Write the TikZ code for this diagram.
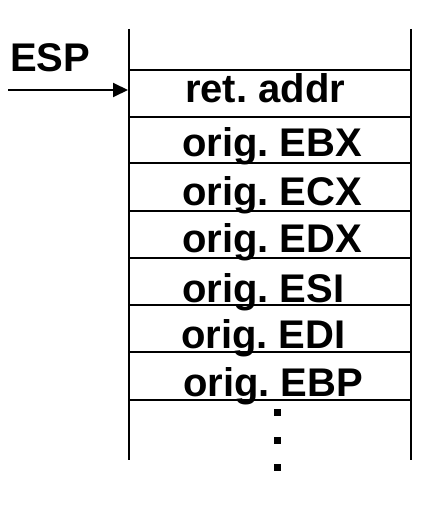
\documentclass[tikz,border=0pt]{standalone}
\usepackage{fontspec}
\setmainfont{Liberation Sans}
\usetikzlibrary{arrows.meta}
\frenchspacing

\begin{document}
\begin{tikzpicture}[x=1pt, y=-1pt, line width=2pt,
    every node/.style = {anchor=base west, inner sep=0pt, font=\fontsize{40}{48}\selectfont\bfseries}]
    \useasboundingbox (0,0) rectangle (444,505);
    % stack frame
    \draw (129,29) -- (129,460);
    \draw (411,29) -- (411,460);
    \foreach \y in {70,117,163,211,258,305,352,400}
      \draw (129,\y) -- (411,\y);
    \node (ret) at (184,103) {ret. addr};
    \node (ebx) at (181,157) {orig. EBX};
    \node (ecx) at (181,205) {orig. ECX};
    \node (edx) at (181,252) {orig. EDX};
    \node (esi) at (181,302) {orig. ESI};
    \node (edi) at (180,348) {orig. EDI};
    \node (ebp) at (182,396) {orig. EBP};
    \foreach \y in {412,440,467}
      \fill (273.5,\y-3.5) rectangle (280.5,\y+3.5);
    % stack pointer
    \node (esp) at (9,72) {ESP};
    \coordinate (espTail) at (8,90);
    \coordinate (espHead) at (128,90);
    \draw[-{Triangle[length=15pt,width=14pt]}] (espTail) -- (espHead);
\end{tikzpicture}
\end{document}
